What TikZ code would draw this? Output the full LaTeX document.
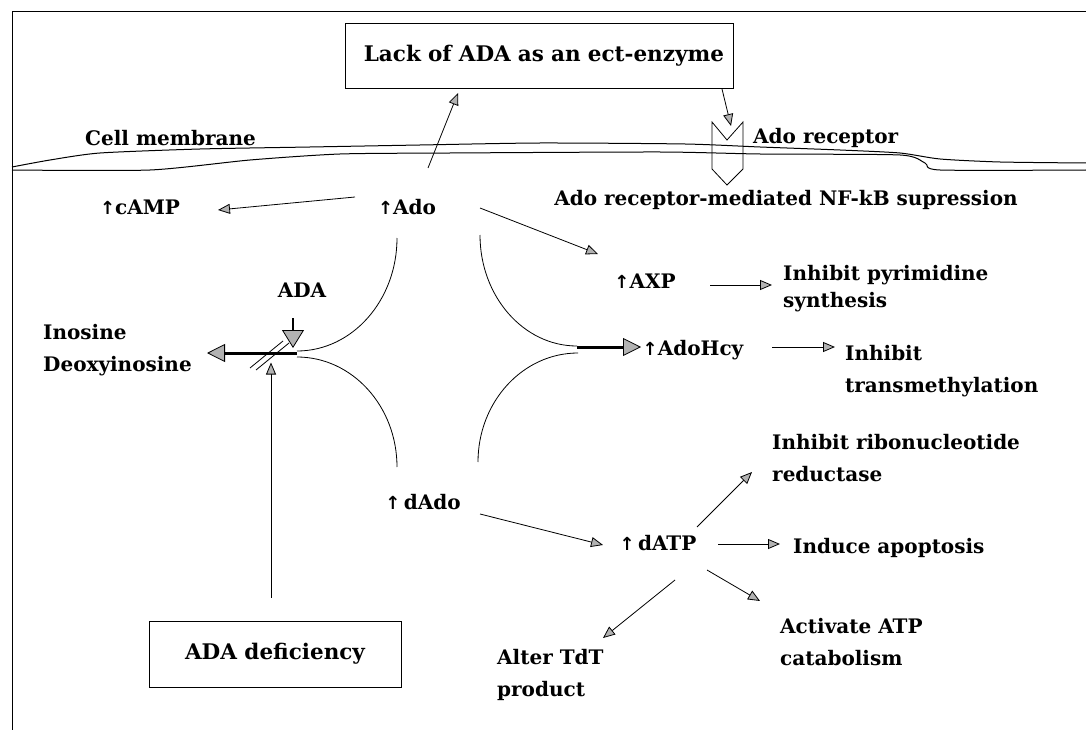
\documentclass[tikz,border=0pt]{standalone}
\usepackage{fontspec}
\setmainfont{DejaVu Serif}
\newfontfamily\symfont{DejaVu Sans}
\usetikzlibrary{arrows.meta,calc}
\newcommand{\up}{{\symfont\fontsize{18}{20}\selectfont ↑}}
\tikzset{
  lbl/.style={inner sep=0pt, font=\bfseries\fontsize{20}{32}\selectfont},
  lbl2/.style={lbl, align=left, anchor=west},
  boxnode/.style={draw, line width=1pt, inner sep=0pt, font=\bfseries\fontsize{21.5}{24}\selectfont},
  arr/.style={line width=0.8pt, -{Triangle[length=12pt,width=10pt,fill=gray!60]}},
  thickarr/.style={line width=3pt, -{Triangle[length=18pt,width=18pt,fill=gray!60,line width=0.8pt]}},
  memb/.style={line width=1pt}
}
\begin{document}
\begin{tikzpicture}[x=1pt,y=-1pt]
\useasboundingbox (0,0) rectangle (1086,730);
% frame
\draw[line width=1pt] (12,730) -- (12,12) -- (1086,12);
% membrane
\draw[memb] plot[smooth, tension=0.4] coordinates {(12,167) (50,160) (100,153) (200,149) (310,147) (420,145) (540,143) (685,144) (760,147) (840,150) (900,153) (940,159) (1000,162) (1086,163)};
\draw[memb] plot[smooth, tension=0.4] coordinates {(12,170) (150,170) (250,160) (340,154) (450,153) (660,152) (760,154) (900,155) (925,163) (940,170) (1086,170)};
% receptor
\draw[line width=0.8pt] (712,122) -- (727,140) -- (743,122) -- (743,169) -- (727,185) -- (712,169) -- cycle;
\coordinate (recv) at (731,126);
% nodes
\node[boxnode, minimum width=388pt, minimum height=65pt, text width=370pt, align=right] (lack) at (539,56) {Lack of ADA as an ect-enzyme};
\node[lbl, anchor=west] (cm) at (85,138) {Cell membrane};
\node[lbl, anchor=west] (rec) at (753,138) {Ado receptor};
\node[lbl] (nfkb) at (786,200) {Ado receptor-mediated NF-kB supression};
\node[lbl] (ado) at (407,207) {\up Ado};
\node[lbl] (camp) at (140,207) {\up cAMP};
\node[lbl] (axp) at (645,281) {\up AXP};
\node[lbl2, font=\bfseries\fontsize{20}{27}\selectfont] (pyr) at (783,289) {Inhibit pyrimidine\\synthesis};
\node[lbl] (adohcy) at (693,350) {\up AdoHcy};
\node[lbl2] (trans) at (845,371) {Inhibit\\transmethylation};
\node[lbl2] (ino) at (43,350) {Inosine\\Deoxyinosine};
\node[lbl] (adalbl) at (302,290) {ADA};
\node[lbl] (dado) at (423,502) {\up\,dAdo};
\node[lbl] (datp) at (658,543) {\up\,dATP};
\node[lbl2] (ribo) at (772,458) {Inhibit ribonucleotide\\reductase};
\node[lbl, anchor=west] (induce) at (793,548) {Induce apoptosis};
\node[lbl2] (act) at (780,642) {Activate ATP\\catabolism};
\node[lbl2] (alter) at (497,675) {Alter TdT\\product};
\node[boxnode, minimum width=252pt, minimum height=66pt] (def) at (275,654) {ADA deficiency};
% four arcs
\draw[line width=0.8pt] (397,238) arc[start angle=0, end angle=90, x radius=100, y radius=113];
\draw[line width=0.8pt] (480,235) arc[start angle=180, end angle=90, x radius=97, y radius=111];
\draw[line width=0.8pt] (297,357) arc[start angle=-90, end angle=0, x radius=100, y radius=110];
\draw[line width=0.8pt] (578,353) arc[start angle=-90, end angle=-180, x radius=100, y radius=109];
\coordinate (jl) at (297,353);
\coordinate (jr) at (577,347);
% arrows
\draw[arr] ($(ado)+(21,-39)$) -- ($(lack)+(-81,37)$);
\draw[arr] ($(lack)+(183,33)$) -- (recv);
\draw[arr] ($(ado)+(-52,-10)$) -- ($(camp)+(78,3)$);
\draw[arr] ($(ado)+(73,1)$) -- ($(axp)+(-47,-27)$);
\draw[arr] ($(axp)+(65,4)$) -- ($(pyr.west)+(-11,-4)$);
\draw[thickarr] (jr) -- ($(adohcy)+(-52,-3)$);
\draw[arr] ($(adohcy)+(79,-3)$) -- ($(trans.west)+(-10,-24)$);
\draw[thickarr] (jl) -- ($(ino.west)+(164,3)$);
\draw[line width=2pt, -{Triangle[length=18pt,width=22pt,fill=gray!60,line width=0.8pt]}] ($(adalbl)+(-9,28)$) -- ($(adalbl)+(-9,58)$);
\draw[line width=0.8pt] (250,368) -- (283,341);
\draw[line width=0.8pt] (256,370) -- (289,343);
\draw[arr] ($(def.north)+(-4,-23)$) -- ($(def.north)+(-4,-258)$);
\draw[arr] ($(dado)+(57,12)$) -- ($(datp)+(-55,2)$);
\draw[arr] ($(datp)+(60,1)$) -- ($(induce.west)+(-13,-4)$);
\draw[arr] ($(datp)+(39,-16)$) -- ($(ribo.west)+(-20,14)$);
\draw[arr] ($(datp)+(49,27)$) -- ($(act.west)+(-20,-41)$);
\draw[arr] ($(datp)+(17,37)$) -- ($(alter.west)+(106,-37)$);
\end{tikzpicture}
\end{document}
